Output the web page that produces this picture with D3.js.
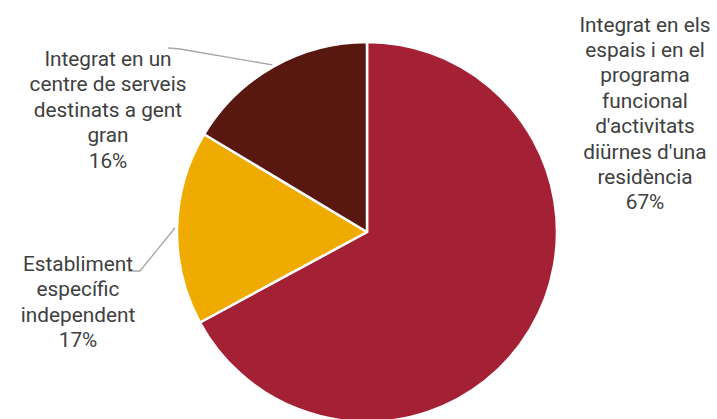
<!DOCTYPE html>
<html>
<head>
<meta charset="utf-8">
<script src="https://cdn.jsdelivr.net/npm/d3@7"></script>
<style>
  body { margin: 0; background: #fff; }
  svg { display: block; font-family: Roboto, "Noto Sans", sans-serif; }
</style>
</head>
<body>
<div id="chart"></div>
<script>
// data
const categories = [
  "Integrat en els espais i en el programa funcional d'activitats diürnes d'una residència",
  "Establiment específic independent",
  "Integrat en un centre de serveis destinats a gent gran"
];
const values = [0.671, 0.165, 0.164];
const labelLines = [
  ["Integrat en els", "espais i en el", "programa", "funcional", "d'activitats", "diürnes d'una", "residència"],
  ["Establiment", "específic", "independent"],
  ["Integrat en un", "centre de serveis", "destinats a gent", "gran"]
];
const colors = ["#A32035", "#F0AB00", "#581810"];

const width = 717, height = 419;
const cx = 367, cy = 232, radius = 190;

// label block placement (centre x, first baseline) and leader elbow
const labelPos = [
  { x: 645, y: 31.5, leader: null },
  { x: 78, y: 271, leader: [[128, 271], [140, 271]] },
  { x: 108, y: 66, leader: [[168, 48], [180, 49]] }
];
const lineH = 25.4;

const svg = d3.select("#chart").append("svg")
  .attr("width", width)
  .attr("height", height);

const pie = d3.pie().sort(null).value(d => d);
const arcs = pie(values);

const arc = d3.arc().innerRadius(0).outerRadius(radius);
const edgeArc = d3.arc().innerRadius(radius + 2).outerRadius(radius + 2);

const g = svg.append("g").attr("transform", `translate(${cx},${cy})`);

g.selectAll("path.slice")
  .data(arcs)
  .enter()
  .append("path")
  .attr("class", "slice")
  .attr("d", arc)
  .attr("fill", (d, i) => colors[i])
  .attr("stroke", "#fff")
  .attr("stroke-width", 2.5)
  .attr("stroke-linejoin", "round");

// leader lines
arcs.forEach((d, i) => {
  const p = labelPos[i];
  if (!p.leader) return;
  const end = edgeArc.centroid(d);
  const pts = p.leader.concat([[end[0] + cx, end[1] + cy]]);
  svg.append("polyline")
    .attr("points", pts.map(q => q.join(",")).join(" "))
    .attr("fill", "none")
    .attr("stroke", "#A6A6A6")
    .attr("stroke-width", 1.3);
});

// labels
arcs.forEach((d, i) => {
  const p = labelPos[i];
  const lines = labelLines[i].concat([d3.format(".0%")(values[i])]);
  const t = svg.append("text")
    .attr("text-anchor", "middle")
    .attr("fill", "#404040")
    .style("font-size", "20.8px");
  lines.forEach((ln, j) => {
    t.append("tspan")
      .attr("x", p.x)
      .attr("y", p.y + j * lineH)
      .text(ln);
  });
});
</script>
</body>
</html>
